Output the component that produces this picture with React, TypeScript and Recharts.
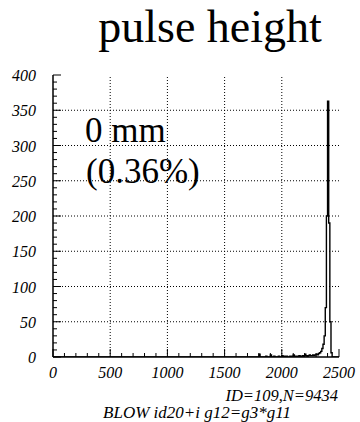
import React from "react";
import { LineChart, Line, XAxis, YAxis, ReferenceLine } from "recharts";

// Histogram of pulse height: bin width 10, counts from 1700 upward (everything below is empty)
const BIN_WIDTH = 10;
const FIRST_BIN = 1700;
const counts = [
  0, 0, 0, 0, 0, 0, 0, 0, 0, 0, // 1700-1790
  4, 0, 0, 0, 0, 0, 1, 0, 0, 0, // 1800-1890
  3, 0, 0, 1, 0, 0, 0, 1, 0, 0, // 1900-1990
  2, 0, 1, 0, 1, 0, 0, 1, 0, 1, // 2000-2090
  3, 1, 0, 1, 1, 2, 1, 1, 2, 1, // 2100-2190
  4, 2, 1, 2, 3, 2, 2, 3, 2, 3, // 2200-2290
  4, 3, 5, 6, 8, 12, 18, 30, 70, 200, // 2300-2390
  363, 190, 50, 6, 0, 0, 0, 0, 0, 0, // 2400-2490
];

const xMajor = [0, 500, 1000, 1500, 2000, 2500];
const yMajor = [0, 50, 100, 150, 200, 250, 300, 350, 400];
const xMinorStep = 100;
const yMinorStep = 10;

const title = "pulse height";
const noteLines = ["0 mm", "(0.36%)"];
const statsLine = "ID=109,N=9434";
const commandLine = "BLOW id20+i g12=g3*g11";

const data = [
  { x: 0, n: 0 },
  ...counts.map((n, i) => ({ x: FIRST_BIN + i * BIN_WIDTH, n })),
  { x: 2500, n: 0 },
];

const xTicks: number[] = [];
for (let v = 0; v <= 2500; v += xMinorStep) xTicks.push(v);
const yTicks: number[] = [];
for (let v = 0; v <= 400; v += yMinorStep) yTicks.push(v);

const serif = "Liberation Serif";

// Inward tick marks (long on majors), italic labels only on majors
const YTick = (props: any) => {
  const { x, y, payload } = props;
  const major = yMajor.includes(payload.value);
  return (
    <g>
      <line x1={x} x2={x + (major ? 8 : 4)} y1={y} y2={y} stroke="#000" strokeWidth={1} />
      {major && (
        <text x={x - 17} y={y + 6} textAnchor="end" fontFamily={serif} fontStyle="italic" fontSize={16} fill="#000">
          {String(payload.value)}
        </text>
      )}
    </g>
  );
};

const XTick = (props: any) => {
  const { x, y, payload } = props;
  const major = xMajor.includes(payload.value);
  return (
    <g>
      <line x1={x} x2={x} y1={y} y2={y - (major ? 8 : 4)} stroke="#000" strokeWidth={1} />
      {major && (
        <text x={x} y={y + 21} textAnchor="middle" fontFamily={serif} fontStyle="italic" fontSize={16} fill="#000">
          {String(payload.value)}
        </text>
      )}
    </g>
  );
};

export default function App() {
  return (
    <div style={{ position: "absolute", left: 0, top: 0, width: 360, height: 422, background: "#fff" }}>
      <LineChart width={360} height={422} data={data} margin={{ top: 75, right: 21, bottom: 0, left: 0 }}>
        <XAxis
          dataKey="x"
          type="number"
          domain={[0, 2500]}
          ticks={xTicks}
          interval={0}
          tickSize={0}
          tickMargin={0}
          tickLine={false}
          tick={(p: any) => <XTick {...p} />}
          height={65}
          axisLine={{ stroke: "#000", strokeWidth: 1.5 }}
          allowDataOverflow
        />
        <XAxis
          xAxisId="top"
          orientation="top"
          type="number"
          domain={[0, 2500]}
          height={0}
          tick={false}
          tickLine={false}
          axisLine={{ stroke: "#000", strokeWidth: 1.5 }}
        />
        <YAxis
          type="number"
          domain={[0, 400]}
          ticks={yTicks}
          interval={0}
          tickSize={0}
          tickMargin={0}
          tickLine={false}
          tick={(p: any) => <YTick {...p} />}
          width={53}
          axisLine={{ stroke: "#000", strokeWidth: 1.5 }}
          allowDataOverflow
        />
        <YAxis
          yAxisId="right"
          orientation="right"
          type="number"
          domain={[0, 400]}
          width={0}
          tick={false}
          tickLine={false}
          axisLine={{ stroke: "#000", strokeWidth: 1.5 }}
        />
        {xMajor.slice(1, -1).map((v) => (
          <ReferenceLine key={`gx${v}`} x={v} stroke="#000" strokeWidth={1} strokeDasharray="1 2" />
        ))}
        {yMajor.slice(1, -1).map((v) => (
          <ReferenceLine key={`gy${v}`} y={v} stroke="#000" strokeWidth={1} strokeDasharray="1 2" />
        ))}
        <Line
          dataKey="n"
          type="stepAfter"
          stroke="#000"
          strokeWidth={1.4}
          dot={false}
          isAnimationActive={false}
        />
      </LineChart>
      <svg width={360} height={422} style={{ position: "absolute", left: 0, top: 0, pointerEvents: "none" }}>
        <text x={210} y={42} textAnchor="middle" fontFamily={serif} fontSize={46} fill="#000">
          {title}
        </text>
        <text x={85} y={142} fontFamily={serif} fontSize={35} fill="#000">
          {noteLines[0]}
        </text>
        <text x={86} y={183} fontFamily={serif} fontSize={35} fill="#000">
          {noteLines[1]}
        </text>
        <text x={338} y={401} textAnchor="end" fontFamily={serif} fontStyle="italic" fontSize={16.5} fill="#000">
          {statsLine}
        </text>
        <text x={291} y={418} textAnchor="end" fontFamily={serif} fontStyle="italic" fontSize={17} fill="#000">
          {commandLine}
        </text>
      </svg>
    </div>
  );
}
